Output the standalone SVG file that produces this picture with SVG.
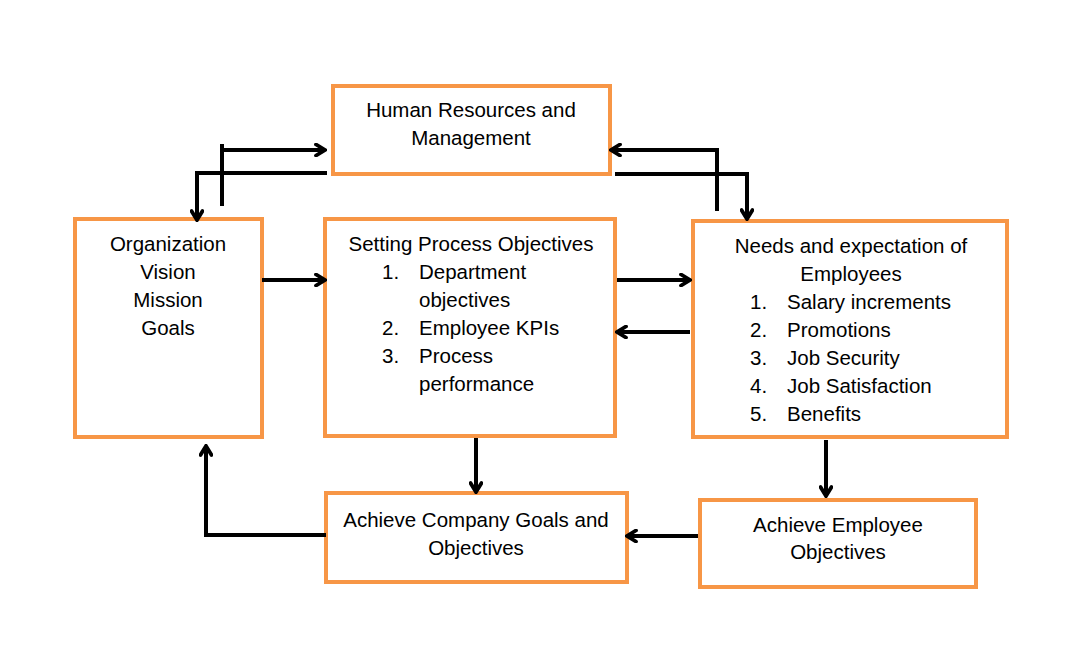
<svg xmlns="http://www.w3.org/2000/svg" width="1092" height="671" viewBox="0 0 1092 671">
<defs>
<style>
.box{fill:#fff;stroke:#F79646;stroke-width:4}
.t{font-family:"Liberation Sans","Noto Sans",sans-serif;font-size:20.5px;fill:#000}
.c{text-anchor:middle}
.ln{fill:none;stroke:#000;stroke-width:4;stroke-linejoin:miter}
</style>
<marker id="ah" viewBox="0 0 14 14" refX="12" refY="7" markerWidth="14" markerHeight="14" markerUnits="userSpaceOnUse" orient="auto">
<path d="M3,1.5 L12,7 L3,12.5" fill="none" stroke="#000" stroke-width="3.8" stroke-linecap="round" stroke-linejoin="miter"/>
</marker>
</defs>
<rect width="1092" height="671" fill="#fff"/>
<g id="hr"><rect class="box" x="333" y="86" width="277" height="88"/>
<text class="t c" x="471" y="117">Human Resources and</text>
<text class="t c" x="471" y="145">Management</text></g>
<g id="org"><rect class="box" x="75" y="219" width="187" height="218"/>
<text class="t c" x="168" y="251">Organization</text>
<text class="t c" x="168" y="279">Vision</text>
<text class="t c" x="168" y="307">Mission</text>
<text class="t c" x="168" y="335">Goals</text></g>
<g id="setting"><rect class="box" x="325" y="219" width="290" height="217"/>
<text class="t c" x="471" y="251">Setting Process Objectives</text>
<text class="t" x="382" y="279">1.</text><text class="t" x="419" y="279">Department</text>
<text class="t" x="419" y="307">objectives</text>
<text class="t" x="382" y="335">2.</text><text class="t" x="419" y="335">Employee KPIs</text>
<text class="t" x="382" y="363">3.</text><text class="t" x="419" y="363">Process</text>
<text class="t" x="419" y="391">performance</text></g>
<g id="needs"><rect class="box" x="693" y="221" width="314" height="216"/>
<text class="t c" x="851" y="253">Needs and expectation of</text>
<text class="t c" x="851" y="281">Employees</text>
<text class="t" x="750" y="309">1.</text><text class="t" x="787" y="309">Salary increments</text>
<text class="t" x="750" y="337">2.</text><text class="t" x="787" y="337">Promotions</text>
<text class="t" x="750" y="365">3.</text><text class="t" x="787" y="365">Job Security</text>
<text class="t" x="750" y="393">4.</text><text class="t" x="787" y="393">Job Satisfaction</text>
<text class="t" x="750" y="421">5.</text><text class="t" x="787" y="421">Benefits</text></g>
<g id="company"><rect class="box" x="326" y="493" width="301" height="89"/>
<text class="t c" x="476" y="527">Achieve Company Goals and</text>
<text class="t c" x="476" y="555">Objectives</text></g>
<g id="employee"><rect class="box" x="700" y="500" width="276" height="87"/>
<text class="t c" x="838" y="532">Achieve Employee</text>
<text class="t c" x="838" y="559">Objectives</text></g>
<g id="connectors">
<path class="ln" d="M222,144 V206"/>
<path class="ln" d="M222,150 H325" marker-end="url(#ah)"/>
<path class="ln" d="M327,173 H197 V220" marker-end="url(#ah)"/>
<path class="ln" d="M717,211 V150 H611" marker-end="url(#ah)"/>
<path class="ln" d="M615,174 H747 V219" marker-end="url(#ah)"/>
<path class="ln" d="M262,280 H325" marker-end="url(#ah)"/>
<path class="ln" d="M617,280 H690" marker-end="url(#ah)"/>
<path class="ln" d="M690,332 H617" marker-end="url(#ah)"/>
<path class="ln" d="M476,438 V492" marker-end="url(#ah)"/>
<path class="ln" d="M826,440 V496" marker-end="url(#ah)"/>
<path class="ln" d="M698,536 H627" marker-end="url(#ah)"/>
<path class="ln" d="M326,535 H206 V446" marker-end="url(#ah)"/>
</g>
</svg>
